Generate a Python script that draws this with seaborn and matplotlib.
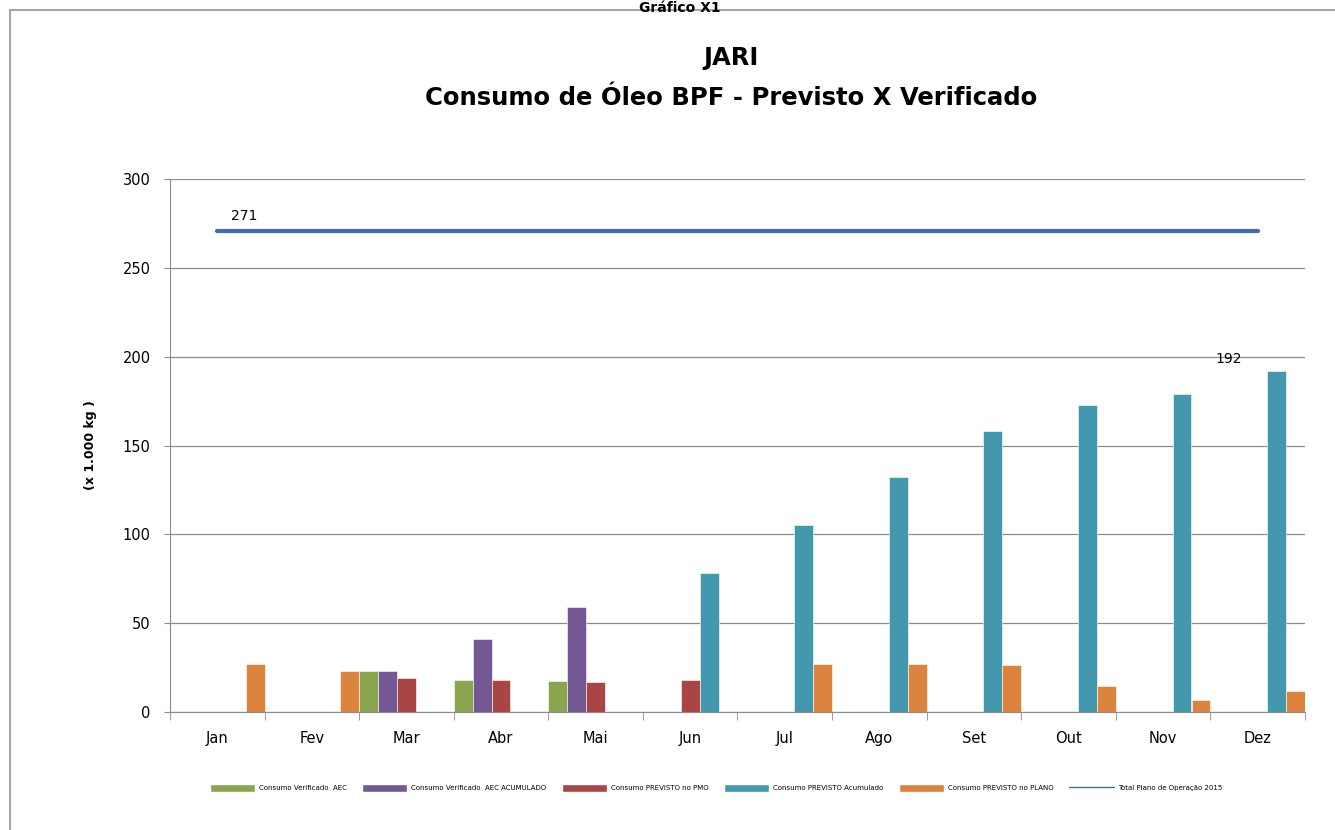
import numpy as np
import pandas as pd
import matplotlib
matplotlib.use("Agg")
import matplotlib.pyplot as plt
import seaborn as sns
from matplotlib.patches import Patch, Rectangle
from matplotlib.lines import Line2D

# Dados (x 1.000 kg)
meses = ["Jan", "Fev", "Mar", "Abr", "Mai", "Jun", "Jul", "Ago", "Set", "Out", "Nov", "Dez"]
verificado_aec = [np.nan, np.nan, 23, 18, 17.5, np.nan, np.nan, np.nan, np.nan, np.nan, np.nan, np.nan]
verificado_acum = [np.nan, np.nan, 23, 41, 59, np.nan, np.nan, np.nan, np.nan, np.nan, np.nan, np.nan]
previsto_pmo = [np.nan, np.nan, 19, 18, 17, 18, np.nan, np.nan, np.nan, np.nan, np.nan, np.nan]
previsto_acum = [np.nan, np.nan, np.nan, np.nan, np.nan, 78, 105, 132, 158, 173, 179, 192]
previsto_plano = [27, 23, np.nan, np.nan, np.nan, np.nan, 27, 27, 26.5, 14.5, 7, 12]
total_plano = [271] * 12

series = ["Consumo Verificado  AEC", "Consumo Verificado  AEC ACUMULADO",
          "Consumo PREVISTO no PMO", "Consumo PREVISTO Acumulado",
          "Consumo PREVISTO no PLANO"]
cores = ["#8aa54e", "#735893", "#a94645", "#4398ae", "#dc843d"]
cor_linha = "#3f6bb4"

df = pd.DataFrame({"Mes": meses,
                   series[0]: verificado_aec,
                   series[1]: verificado_acum,
                   series[2]: previsto_pmo,
                   series[3]: previsto_acum,
                   series[4]: previsto_plano})
df = df.melt(id_vars="Mes", var_name="serie", value_name="valor").dropna()

sns.set_style("white")
plt.rcParams["font.family"] = ["DejaVu Sans"]
plt.rcParams["text.color"] = "black"
plt.rcParams["xtick.color"] = "black"
plt.rcParams["ytick.color"] = "black"
plt.rcParams["axes.labelcolor"] = "black"

fig = plt.figure(figsize=(13.35, 8.3), dpi=100)
ax = fig.add_axes([170 / 1335, 1 - 712 / 830, 1135 / 1335, 533 / 830])

sns.barplot(data=df, x="Mes", y="valor", hue="serie", hue_order=series,
            order=meses, palette=cores, saturation=1, width=1, gap=0, errorbar=None,
            edgecolor="white", linewidth=0.4, legend=False, ax=ax)

ax.plot(np.arange(len(meses)), total_plano, color=cor_linha, lw=3, zorder=3)
ax.text(0.15, total_plano[0] + 4, str(total_plano[0]), fontsize=10, ha="left", va="bottom")
ax.text(11 - 0.17, previsto_acum[-1] + 3, str(previsto_acum[-1]), fontsize=10, ha="right", va="bottom")

ax.set_xlim(-0.5, 11.5)
ax.set_ylim(0, 300)
ax.set_yticks(np.arange(0, 301, 50))
ax.yaxis.grid(True, color="#8c8c8c", lw=0.9)
ax.set_axisbelow(True)
ax.set_xlabel("")
ax.set_ylabel("(x 1.000 kg )", fontsize=9, fontweight="bold", labelpad=18)
ax.tick_params(axis="y", labelsize=10.5, length=4, color="#8c8c8c", direction="out", left=True, pad=10)
ax.tick_params(axis="x", labelsize=10.5, length=0, pad=14)
ax.set_xticks(np.arange(-0.5, 12, 1), minor=True)
ax.tick_params(axis="x", which="minor", length=6, color="#8c8c8c", direction="out", bottom=True)
for s in ["top", "right"]:
    ax.spines[s].set_visible(False)
for s in ["left", "bottom"]:
    ax.spines[s].set_color("#8c8c8c")

fig.text(731 / 1335, 1 - 58 / 830, "JARI", ha="center", va="center", fontsize=17.5, fontweight="bold")
fig.text(731 / 1335, 1 - 98 / 830, "Consumo de Óleo BPF - Previsto X Verificado",
         ha="center", va="center", fontsize=17.5, fontweight="bold")
fig.text(680 / 1335, 1 - 1 / 830, "Gráfico X1", ha="center", va="top", fontsize=10, fontweight="bold")

# moldura
fig.patches.append(Rectangle((10 / 1335, -0.05), 1.1, 1 - 10 / 830 + 0.05, transform=fig.transFigure,
                             fill=False, edgecolor="#a6a6a6", lw=1.5))

handles = [Patch(facecolor=c, label=s) for c, s in zip(cores, series)]
handles.append(Line2D([0], [0], color=cor_linha, lw=1, label="Total Plano de Operação 2015"))
fig.legend(handles=handles, loc="center", bbox_to_anchor=(716 / 1335, 1 - 788 / 830), ncol=6,
           frameon=False, fontsize=5, handlelength=6.5, handleheight=1.2, columnspacing=2.2, handletextpad=0.6)

fig.savefig("out.png", dpi=100)
